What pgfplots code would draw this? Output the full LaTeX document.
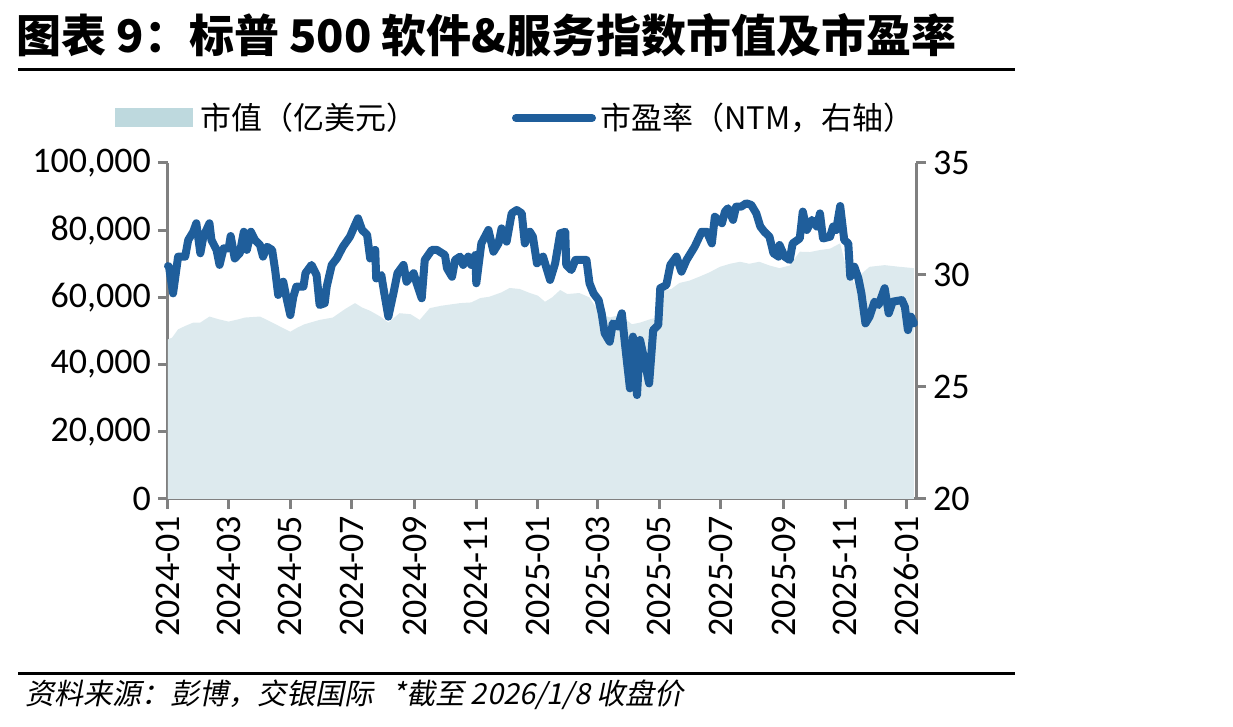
\documentclass[border=0pt]{standalone}
\usepackage{pgfplots}
\pgfplotsset{compat=1.18}
\usepackage{fontspec}
\setmainfont{Carlito}
\newfontfamily\cjk{Noto Sans CJK SC}
\newfontfamily\cjkit{Noto Sans CJK SC}[FakeSlant=0.2]
\definecolor{areac}{RGB}{221,234,238}
\definecolor{legarea}{RGB}{190,217,222}
\definecolor{pec}{RGB}{31,94,155}
\definecolor{axgray}{RGB}{128,128,128}

\pgfplotstableread{
d v
0 47500
4 48000
10 50500
17 51500
25 52500
32 52500
41 54300
50 53500
60 52800
70 53500
76 54000
91 54300
100 53000
111 51300
121 49800
128 51000
135 52000
150 53300
163 54000
175 56500
185 58300
192 57000
200 56000
210 54300
218 52500
229 55300
240 55000
249 53300
259 56800
270 57500
289 58300
300 58500
309 59800
318 60200
330 61500
338 62800
348 62500
358 61300
366 60500
373 58700
380 60000
388 62200
395 61000
407 61300
417 60000
427 55300
437 54000
447 54800
459 52000
467 52500
477 53500
484 54000
490 62000
498 62500
506 64300
516 65000
526 66200
536 67500
546 69100
556 70000
566 70600
575 70000
585 70600
595 69500
605 68700
615 69500
625 73600
635 73500
645 74100
655 74500
665 76100
670 70000
679 64000
686 67000
694 69100
709 69600
724 69100
738 68700
}\mcap

\pgfplotstableread{
d pe
0 30.4
1 30.37
5 29.18
10 30.82
17 30.82
20 31.56
25 31.93
28 32.31
32 30.97
35 31.71
41 32.31
43 31.56
48 31.12
51 30.45
55 31.19
60 31.19
62 31.74
66 30.74
71 30.97
75 31.93
78 31.12
82 31.93
86 31.56
91 31.34
94 30.82
98 31.26
103 31.12
106 30.22
109 29.11
114 29.70
117 29.03
121 28.21
124 29.03
127 29.48
134 29.48
136 30.08
142 30.45
147 30.00
150 28.66
155 28.74
157 29.48
162 30.45
167 30.74
173 31.26
180 31.71
185 32.23
188 32.53
192 32.01
197 31.79
200 30.74
205 31.12
206 29.85
211 30.00
214 29.18
218 28.14
223 29.18
227 30.08
233 30.45
236 29.70
243 30.08
246 29.63
251 28.96
254 30.67
261 31.12
266 31.12
274 30.89
276 30.30
281 29.92
284 30.67
289 30.82
292 30.45
297 30.82
300 30.45
304 30.89
305 29.63
310 31.41
317 32.01
322 31.04
327 31.41
330 32.08
335 31.49
340 32.75
345 32.90
350 32.75
353 31.41
358 31.93
361 31.71
365 30.52
371 30.82
378 29.78
383 30.52
388 31.86
393 31.93
394 30.45
399 30.22
403 30.67
414 30.67
417 29.63
421 29.18
426 28.88
429 28.29
432 27.40
437 27.02
440 27.84
445 27.69
449 28.29
452 26.95
457 24.94
460 27.25
464 24.64
467 27.10
472 26.06
476 25.16
480 27.54
485 27.77
487 29.41
493 29.55
497 30.45
503 30.82
508 30.15
513 30.67
521 31.26
528 31.93
533 31.93
538 31.41
541 32.60
548 32.31
551 32.83
554 32.98
559 32.46
562 33.05
567 33.05
572 33.20
577 33.13
582 32.75
586 32.16
590 31.93
595 31.71
599 30.97
604 30.82
605 31.34
610 30.82
615 30.67
618 31.41
625 31.63
628 32.83
632 32.01
637 32.46
642 32.16
645 32.75
648 31.63
655 31.71
658 32.16
661 32.01
665 33.08
669 31.56
673 31.41
675 29.92
679 30.37
683 29.85
686 29.18
690 27.84
694 28.14
699 28.81
703 28.66
709 29.41
713 28.29
717 28.81
726 28.88
729 28.58
732 27.54
735 28.14
738 27.84
}\pe

\begin{document}
\begin{tikzpicture}
\path[use as bounding box] (0,0) rectangle (616.5pt,363.5pt);
% title
\node[anchor=base west, inner sep=0pt] at (8pt,337pt) {\cjk\bfseries\fontsize{22.5}{25}\selectfont 图表 9：标普 500 软件\&服务指数市值及市盈率};
\draw[black, line width=1.5pt] (9pt,328.5pt) -- (507.5pt,328.5pt);
% legend
\fill[legarea] (57.5pt,300pt) rectangle (96.5pt,309.5pt);
\node[anchor=west, inner sep=0pt] at (100pt,304.5pt) {\cjk\fontsize{15.5}{18}\selectfont 市值（亿美元）};
\draw[pec, line width=4pt, line cap=round] (258pt,304.5pt) -- (296pt,304.5pt);
\node[anchor=west, inner sep=0pt] at (300pt,304.5pt) {\cjk\fontsize{15.5}{18}\selectfont 市盈率（NTM，右轴）};
% bottom
\draw[black, line width=1.5pt] (9pt,26.5pt) -- (507.5pt,26.5pt);
\node[anchor=base west, inner sep=0pt] at (12.5pt,11pt) {\cjkit\fontsize{14.5}{16}\selectfont 资料来源：彭博，交银国际 \ \ *截至 2026/1/8 收盘价};

\begin{axis}[
  at={(84pt,114pt)}, anchor=south west, scale only axis,
  width=374pt, height=168pt,
  xmin=0, xmax=740, ymin=0, ymax=100000,
  axis y line*=left, axis x line*=bottom,
  scaled y ticks=false,
  xtick={0,60,121,182,244,305,366,425,486,547,609,670,731},
  xticklabels={2024-01,2024-03,2024-05,2024-07,2024-09,2024-11,2025-01,2025-03,2025-05,2025-07,2025-09,2025-11,2026-01},
  x tick label style={rotate=90, anchor=east},
  ytick={0,20000,40000,60000,80000,100000},
  yticklabels={0,{20,000},{40,000},{60,000},{80,000},{100,000}},
  tick align=outside, major tick length=5pt,
  tick style={axgray, line width=1.5pt},
  axis line style={axgray, line width=1.5pt},
  ticklabel style={font=\fontsize{18}{20}\selectfont, text=black},
  clip=false,
]
\addplot[fill=areac, draw=none] table[x=d,y=v] {\mcap} \closedcycle;
\end{axis}

\begin{axis}[
  at={(84pt,114pt)}, anchor=south west, scale only axis,
  width=374pt, height=168pt,
  xmin=0, xmax=740, ymin=20, ymax=35,
  axis y line*=right, axis x line=none,
  ytick={20,25,30,35},
  tick align=outside, major tick length=5pt,
  tick style={axgray, line width=1.5pt},
  axis line style={axgray, line width=1.5pt},
  ticklabel style={font=\fontsize{18}{20}\selectfont, text=black},
  /pgf/number format/assume math mode=true,
  clip=false,
]
\addplot[pec, line width=4pt, line join=round, line cap=round] table[x=d,y=pe] {\pe};
\end{axis}
\end{tikzpicture}
\end{document}
